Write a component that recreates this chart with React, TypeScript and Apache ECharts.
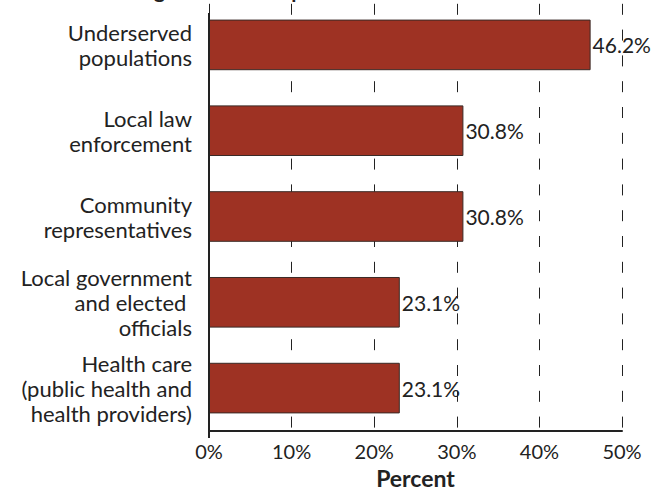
import React, { useEffect, useRef } from "react";
import * as echarts from "echarts";

const categories = [
  "Underserved\npopulations",
  "Local law\nenforcement",
  "Community\nrepresentatives",
  "Local government\nand elected \nofficials",
  "Health care\n(public health and\nhealth providers)",
];
const values = [46.2, 30.8, 30.8, 23.1, 23.1];
const xTicks = [0, 10, 20, 30, 40, 50];
const titleText = "Working with outside partners";
const axisTitle = "Percent";

const W = 653;
const H = 494;
const GRID = { left: 209, right: 31, top: 2, bottom: 56 };
const FONT = "Lato, 'Open Sans', sans-serif";

export default function App() {
  const ref = useRef<HTMLDivElement>(null);
  useEffect(() => {
    if (!ref.current) return;
    const chart = echarts.init(ref.current, null, { renderer: "svg" });
    chart.setOption({
      animation: false,
      backgroundColor: "#ffffff",
      textStyle: { fontFamily: FONT },
      grid: { ...GRID, containLabel: false },
      graphic: [
        {
          type: "text",
          x: 85,
          y: -0.5,
          style: {
            text: titleText,
            font: `bold 21px ${FONT}`,
            fill: "#222",
            verticalAlign: "bottom",
            lineHeight: 21,
          },
        },
        {
          type: "line",
          shape: { x1: GRID.left, y1: 13, x2: GRID.left, y2: H - GRID.bottom },
          style: { stroke: "#222", lineWidth: 2 },
          z: 10,
        },
      ],
      xAxis: {
        type: "value",
        min: xTicks[0],
        max: xTicks[xTicks.length - 1],
        interval: 10,
        name: axisTitle,
        nameLocation: "middle",
        nameGap: 35,
        nameTextStyle: { fontFamily: FONT, fontWeight: "bold", fontSize: 23, color: "#222" },
        axisLine: { show: true, lineStyle: { color: "#222", width: 2 } },
        axisTick: { show: false },
        axisLabel: {
          formatter: (v: number) => `${v}%`,
          fontSize: 20,
          color: "#222",
          margin: 10,
          fontFamily: FONT,
        },
        splitLine: {
          show: true,
          lineStyle: { color: "#222", width: 1, type: [11, 14.8], dashOffset: 23.8 },
        },
      },
      yAxis: {
        type: "category",
        data: categories,
        inverse: true,
        axisLine: { show: false },
        axisTick: { show: false },
        axisLabel: {
          fontSize: 22,
          lineHeight: 25,
          color: "#222",
          margin: 17,
          align: "right",
          fontFamily: FONT,
        },
      },
      series: [
        {
          type: "bar",
          data: values,
          barCategoryGap: "41%",
          itemStyle: { color: "#9e3223", borderColor: "#3a2a26", borderWidth: 1 },
          label: {
            show: true,
            position: "right",
            distance: 2,
            formatter: (p: any) => `${p.value}%`,
            fontSize: 21,
            color: "#222",
            fontFamily: FONT,
          },
          z: 3,
        },
      ],
    });
    return () => chart.dispose();
  }, []);
  return (
    <div
      ref={ref}
      style={{ position: "fixed", left: 0, top: 0, width: W, height: H, background: "#fff" }}
    />
  );
}
